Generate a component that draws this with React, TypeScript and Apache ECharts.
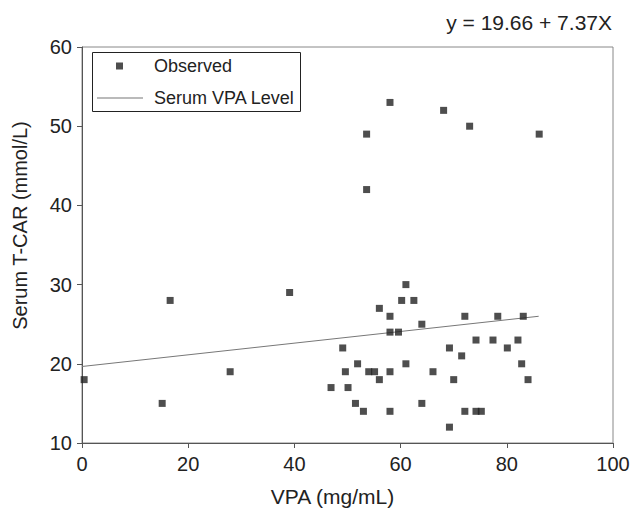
import React, { useEffect, useRef } from "react";
import * as echarts from "echarts";

const obsX = [0.4, 15.1, 16.6, 27.9, 39.1, 53.6, 53.6, 58, 68.1, 73, 86.1, 61, 60.2, 62.5, 56, 58, 72.1, 78.3, 83.1, 64, 58, 59.6, 74.2, 77.4, 82.1, 49.1, 69.2, 80.1, 71.5, 51.9, 61, 82.8, 49.6, 54, 55.1, 58, 66.1, 56, 70, 84, 46.9, 50.1, 51.5, 64, 53, 58, 72.1, 74.2, 75.2, 69.2];
const obsY = [18, 15, 28, 19, 29, 49, 42, 53, 52, 50, 49, 30, 28, 28, 27, 26, 26, 26, 26, 25, 24, 24, 23, 23, 23, 22, 22, 22, 21, 20, 20, 20, 19, 19, 19, 19, 19, 18, 18, 18, 17, 17, 15, 15, 14, 14, 14, 14, 14, 12];
const fitX = [0, 86];
const fitY = [19.66, 26.0];

const xTicks = { min: 0, max: 100, interval: 20 };
const yTicks = { min: 10, max: 60, interval: 10 };

const FONT = '"Liberation Sans", Arial, Helvetica, sans-serif';

export default function App() {
  const ref = useRef<HTMLDivElement>(null);
  useEffect(() => {
    if (!ref.current) return;
    const chart = echarts.init(ref.current, null, { renderer: "svg" });
    const axisCommon = {
      axisLine: { show: true, lineStyle: { color: "#555", width: 1 } },
      axisTick: { show: true, inside: false, length: 5, lineStyle: { color: "#555" } },
      splitLine: { show: false },
    };
    chart.setOption({
      animation: false,
      backgroundColor: "#fff",
      textStyle: { fontFamily: FONT },
      grid: {
        left: 82,
        top: 47,
        right: 20,
        bottom: 65,
        show: true,
        borderColor: "#888",
        borderWidth: 1,
        containLabel: false,
      },
      xAxis: {
        type: "value",
        ...xTicks,
        ...axisCommon,
        axisLabel: { fontSize: 20, color: "#222", margin: 11, fontFamily: FONT },
      },
      yAxis: {
        type: "value",
        ...yTicks,
        ...axisCommon,
        axisLabel: { fontSize: 20, color: "#222", margin: 10, fontFamily: FONT },
      },
      legend: [
        {
          data: ["Observed"],
          left: 116,
          top: 57,
          padding: 0,
          icon: "rect",
          itemWidth: 7,
          itemHeight: 7,
          textStyle: { fontSize: 18, color: "#222", fontFamily: FONT, padding: [0, 0, 0, 26] },
          selectedMode: false,
        },
        {
          data: ["Serum VPA Level"],
          left: 97,
          top: 89,
          padding: 0,
          icon: "rect",
          itemWidth: 46,
          itemHeight: 1,
          itemStyle: { color: "#777", borderWidth: 0 },
          textStyle: { fontSize: 18, color: "#222", fontFamily: FONT, padding: [0, 0, 0, 6] },
          selectedMode: false,
        },
      ],
      series: [
        {
          name: "Observed",
          type: "scatter",
          symbol: "rect",
          symbolSize: 7,
          itemStyle: { color: "#222" },
          data: obsX.map((x, i) => [x, obsY[i]]),
          z: 3,
        },
        {
          name: "Serum VPA Level",
          type: "line",
          symbol: "none",
          showSymbol: false,
          lineStyle: { color: "#777", width: 1 },
          itemStyle: { color: "#777" },
          data: fitX.map((x, i) => [x, fitY[i]]),
          z: 2,
        },
      ],
      graphic: [
        {
          type: "rect",
          shape: { x: 92.5, y: 52.5, width: 208, height: 59 },
          style: { fill: "none", stroke: "#222", lineWidth: 1 },
          z: 10,
        },
        {
          type: "text",
          x: 612,
          y: 22.5,
          style: {
            text: "y = 19.66 + 7.37X",
            font: `21px ${FONT}`,
            fill: "#222",
            textAlign: "right",
            textVerticalAlign: "middle",
            align: "right",
            verticalAlign: "middle",
          },
        },
        {
          type: "text",
          x: 332.5,
          y: 496.5,
          style: {
            text: "VPA (mg/mL)",
            font: `21px ${FONT}`,
            fill: "#222",
            textAlign: "center",
            textVerticalAlign: "middle",
            align: "center",
            verticalAlign: "middle",
          },
        },
        {
          type: "text",
          x: 20,
          y: 225.5,
          rotation: Math.PI / 2,
          style: {
            text: "Serum T-CAR (mmol/L)",
            font: `20px ${FONT}`,
            fill: "#222",
            textAlign: "center",
            textVerticalAlign: "middle",
            align: "center",
            verticalAlign: "middle",
          },
        },
      ],
    });
    return () => chart.dispose();
  }, []);
  return (
    <div
      ref={ref}
      style={{ position: "fixed", left: 0, top: 0, width: 633, height: 508, background: "#fff" }}
    />
  );
}
